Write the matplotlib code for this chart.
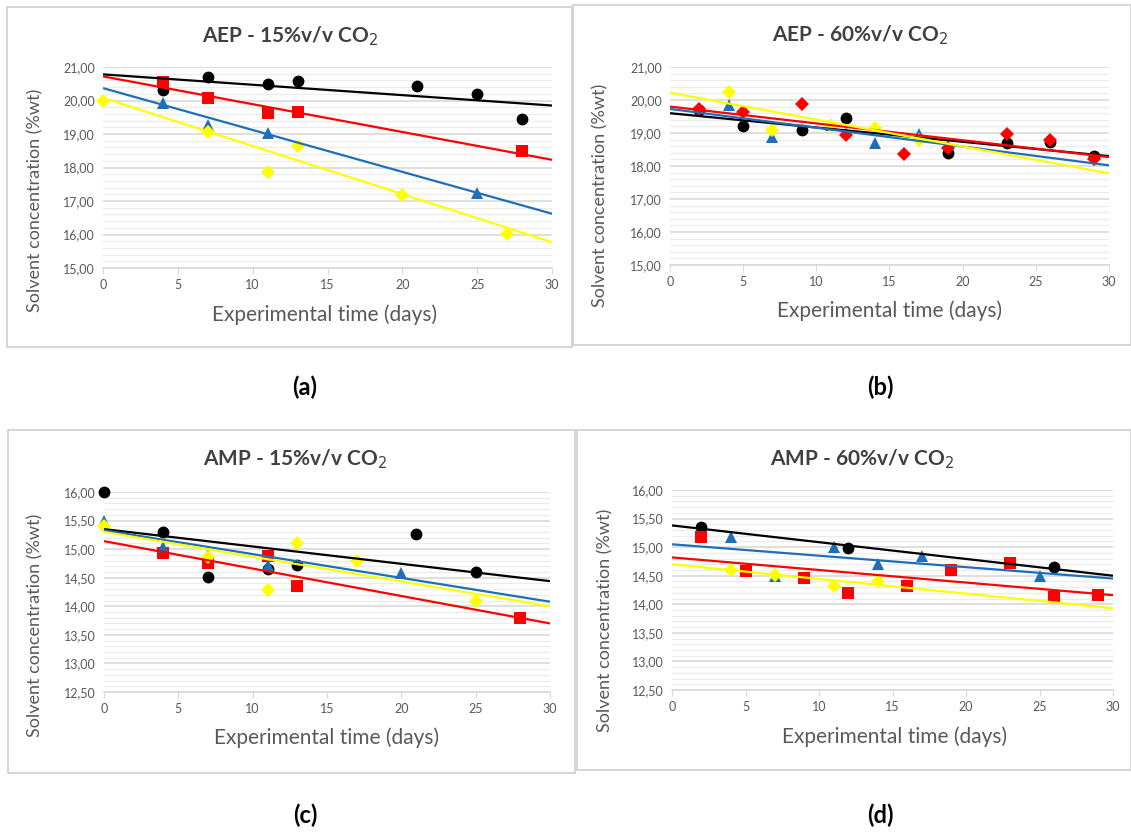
import numpy as np
import matplotlib.pyplot as plt
from matplotlib.ticker import FuncFormatter, MultipleLocator
from matplotlib.patches import Rectangle

plt.rcParams['font.family'] = ['Lato', 'DejaVu Sans']

W, H = 1131, 832

# ---- data ----
trend_days = [0, 30]

# (a) AEP - 15%v/v CO2
a_black_x = [4, 7, 11, 13, 21, 25, 28]
a_black_y = [20.30, 20.70, 20.50, 20.57, 20.42, 20.20, 19.45]
a_red_x = [4, 7, 11, 13, 28]
a_red_y = [20.55, 20.08, 19.63, 19.65, 18.48]
a_blue_x = [4, 7, 11, 25]
a_blue_y = [19.93, 19.27, 19.02, 17.23]
a_yellow_x = [0, 7, 11, 13, 20, 27]
a_yellow_y = [20.00, 19.07, 17.88, 18.63, 17.18, 16.02]
a_trends = {'black': [20.78, 19.85], 'red': [20.72, 18.23],
            'blue': [20.37, 16.62], 'yellow': [20.08, 15.77]}

# (b) AEP - 60%v/v CO2
b_black_x = [2, 5, 9, 12, 19, 23, 26, 29]
b_black_y = [19.70, 19.22, 19.10, 19.45, 18.40, 18.70, 18.72, 18.30]
b_red_x = [2, 5, 9, 12, 16, 19, 23, 26, 29]
b_red_y = [19.72, 19.65, 19.87, 18.93, 18.35, 18.55, 18.97, 18.78, 18.22]
b_blue_x = [4, 7, 11, 14, 17]
b_blue_y = [19.85, 18.87, 19.25, 18.70, 18.98]
b_yellow_x = [4, 7, 11, 14, 17]
b_yellow_y = [20.25, 19.10, 19.20, 19.15, 18.80]
b_trends = {'black': [19.60, 18.30], 'red': [19.80, 18.27],
            'blue': [19.73, 18.02], 'yellow': [20.22, 17.78]}

# (c) AMP - 15%v/v CO2
c_black_x = [0, 4, 7, 11, 13, 21, 25]
c_black_y = [16.00, 15.30, 14.52, 14.66, 14.72, 15.26, 14.60]
c_red_x = [4, 7, 11, 13, 28]
c_red_y = [14.93, 14.75, 14.88, 14.36, 13.80]
c_blue_x = [0, 4, 7, 11, 20]
c_blue_y = [15.50, 15.03, 14.92, 14.72, 14.58]
c_yellow_x = [0, 7, 11, 13, 17, 25]
c_yellow_y = [15.40, 14.87, 14.28, 15.10, 14.80, 14.10]
c_trends = {'black': [15.35, 14.44], 'red': [15.14, 13.70],
            'blue': [15.33, 14.08], 'yellow': [15.30, 14.00]}

# (d) AMP - 60%v/v CO2
d_black_x = [2, 12, 26]
d_black_y = [15.35, 14.98, 14.65]
d_red_x = [2, 5, 9, 12, 16, 19, 23, 26, 29]
d_red_y = [15.17, 14.58, 14.46, 14.20, 14.32, 14.60, 14.72, 14.12, 14.17]
d_blue_x = [4, 7, 11, 14, 17, 25]
d_blue_y = [15.17, 14.50, 15.00, 14.70, 14.85, 14.50]
d_yellow_x = [4, 7, 11, 14]
d_yellow_y = [14.60, 14.52, 14.32, 14.40]
d_trends = {'black': [15.38, 14.50], 'red': [14.82, 14.16],
            'blue': [15.05, 14.45], 'yellow': [14.70, 13.93]}

colors = {'black': '#000000', 'red': '#ff0000', 'blue': '#1f6fb8', 'yellow': '#ffff00'}

panels = [
    dict(title='AEP - 15%v/v CO$_2$', letter='(a)', ylim=(15, 21), major=1, minor=0.2,
         series=[('black', 'o', a_black_x, a_black_y), ('red', 's', a_red_x, a_red_y),
                 ('blue', '^', a_blue_x, a_blue_y), ('yellow', 'D', a_yellow_x, a_yellow_y)],
         trends=a_trends, ax=(103, 67, 552, 268), box=(7, 7, 572, 347),
         title_xy=(290, 36), xlab_xy=(325, 315), ylab_xy=(35, 200), let_xy=(305, 387)),
    dict(title='AEP - 60%v/v CO$_2$', letter='(b)', ylim=(15, 21), major=1, minor=0.2,
         series=[('black', 'o', b_black_x, b_black_y), ('red', 'D', b_red_x, b_red_y),
                 ('blue', '^', b_blue_x, b_blue_y), ('yellow', 'D', b_yellow_x, b_yellow_y)],
         trends=b_trends, ax=(670, 67, 1109, 265), box=(573, 5, 1131, 345),
         title_xy=(860, 35), xlab_xy=(890, 311), ylab_xy=(600, 195), let_xy=(880, 387)),
    dict(title='AMP - 15%v/v CO$_2$', letter='(c)', ylim=(12.5, 16), major=0.5, minor=0.1,
         series=[('black', 'o', c_black_x, c_black_y), ('red', 's', c_red_x, c_red_y),
                 ('blue', '^', c_blue_x, c_blue_y), ('yellow', 'D', c_yellow_x, c_yellow_y)],
         trends=c_trends, ax=(104, 492, 550, 692), box=(8, 430, 575, 773),
         title_xy=(295, 459), xlab_xy=(327, 738), ylab_xy=(35, 625), let_xy=(305, 815)),
    dict(title='AMP - 60%v/v CO$_2$', letter='(d)', ylim=(12.5, 16), major=0.5, minor=0.1,
         series=[('black', 'o', d_black_x, d_black_y), ('red', 's', d_red_x, d_red_y),
                 ('blue', '^', d_blue_x, d_blue_y), ('yellow', 'D', d_yellow_x, d_yellow_y)],
         trends=d_trends, ax=(672, 490, 1113, 690), box=(577, 430, 1131, 770),
         title_xy=(862, 459), xlab_xy=(895, 737), ylab_xy=(605, 620), let_xy=(880, 815)),
]

msize = {'o': 8.5, 's': 8, '^': 9, 'D': 7}

fig = plt.figure(figsize=(W / 100, H / 100), dpi=100)


def fx(px):
    return px / W


def fy(py):
    return 1 - py / H


for p in panels:
    x0, y0, x1, y1 = p['box']
    fig.add_artist(Rectangle((fx(x0), fy(y1)), fx(x1 - x0), (y1 - y0) / H,
                             transform=fig.transFigure, fill=False,
                             edgecolor='#d0d0d0', linewidth=1.2))

    l, t, r, b = p['ax']
    ax = fig.add_axes([fx(l), fy(b), fx(r - l), (b - t) / H])
    ax.set_xlim(0, 30)
    ax.set_ylim(*p['ylim'])
    ax.xaxis.set_major_locator(MultipleLocator(5))
    ax.yaxis.set_major_locator(MultipleLocator(p['major']))
    ax.yaxis.set_minor_locator(MultipleLocator(p['minor']))
    ax.yaxis.set_major_formatter(FuncFormatter(lambda v, pos: f'{v:.2f}'.replace('.', ',')))
    ax.grid(axis='y', which='major', color='#d9d9d9', linewidth=1.2, zorder=0)
    ax.grid(axis='y', which='minor', color='#ececec', linewidth=0.9, zorder=0)
    ax.set_axisbelow(True)
    for s in ['top', 'right', 'left']:
        ax.spines[s].set_visible(False)
    ax.spines['bottom'].set_color('#d9d9d9')
    ax.spines['bottom'].set_linewidth(1.2)
    ax.tick_params(axis='y', which='both', length=0, labelsize=9, labelcolor='#595959', pad=6)
    ax.tick_params(axis='x', length=4, color='#d9d9d9', labelsize=9, labelcolor='#595959', pad=4)

    for name, mk, xs, ys in p['series']:
        ax.plot(xs, ys, linestyle='none', marker=mk, markersize=msize[mk],
                color=colors[name], markeredgewidth=0, zorder=3, clip_on=False)
    for name, mk, xs, ys in p['series']:
        ax.plot(trend_days, p['trends'][name], color=colors[name], linewidth=1.6,
                zorder=4, solid_capstyle='butt')

    fig.text(fx(p['title_xy'][0]), fy(p['title_xy'][1]), p['title'], ha='center', va='center',
             fontsize=15, fontweight='bold', color='#404040')
    fig.text(fx(p['xlab_xy'][0]), fy(p['xlab_xy'][1]), 'Experimental time (days)',
             ha='center', va='center', fontsize=15, color='#595959')
    fig.text(fx(p['ylab_xy'][0]), fy(p['ylab_xy'][1]), 'Solvent concentration (%wt)',
             ha='center', va='center', rotation=90, fontsize=13, color='#595959')
    fig.text(fx(p['let_xy'][0]), fy(p['let_xy'][1]), p['letter'], ha='center', va='center',
             fontsize=17, fontweight='bold', color='black')

fig.savefig('out.png', dpi=100, facecolor='white')
